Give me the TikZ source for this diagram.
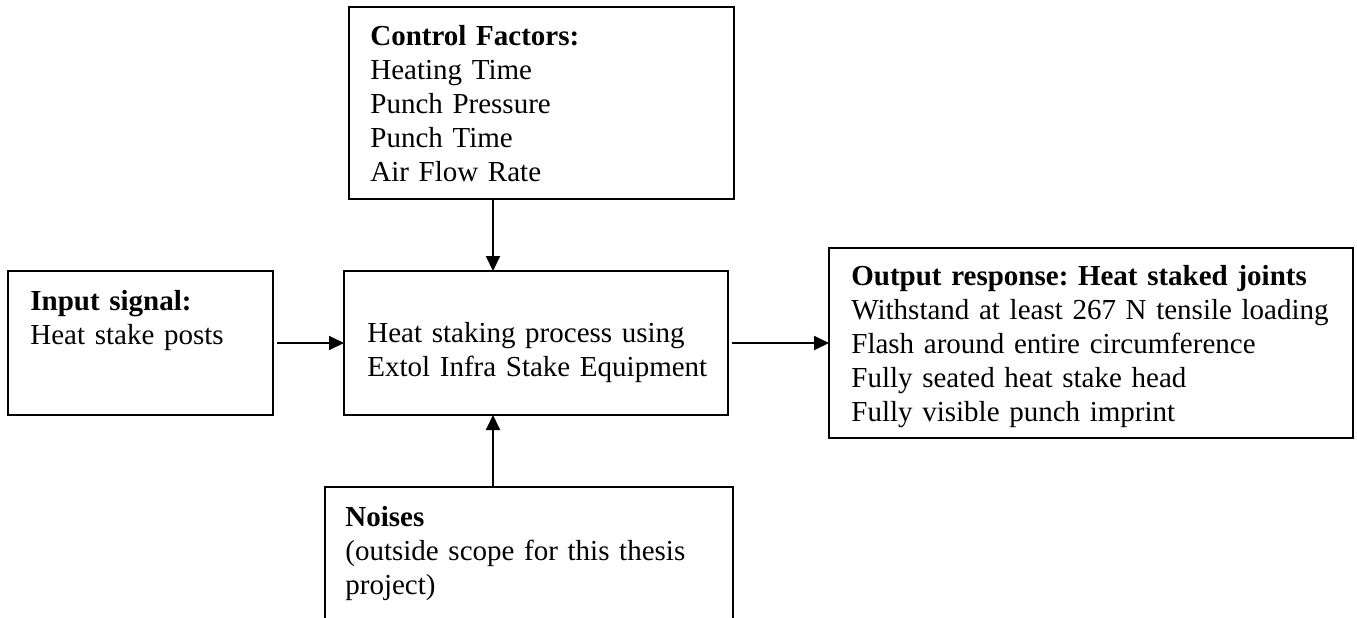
\documentclass[tikz,border=0pt]{standalone}
\usepackage{fontspec}
\setmainfont{Liberation Serif}
\usetikzlibrary{arrows.meta}
\frenchspacing

\begin{document}
\begin{tikzpicture}[
    x=0.5pt, y=-0.5pt,
    box/.style={draw, line width=1pt, inner sep=0pt, outer sep=0pt, anchor=north west},
    txt/.style={anchor=base west, inner sep=0pt, align=left, text width=300pt,
                font=\fontsize{14.5pt}{17pt}\selectfont},
    arr/.style={line width=1pt, -{Triangle[length=7.5pt, width=7pt]}}
  ]
  \useasboundingbox (0,0) rectangle (1357,617);
  \fill[white] (0,0) rectangle (1357,617);
  \clip (0,0) rectangle (1357,617);

  % frames
  \node[box, minimum width=192.5pt, minimum height=96pt] (ctrl)  at (349,7)   {};
  \node[box, minimum width=132.5pt, minimum height=72pt] (inp)   at (8,271)   {};
  \node[box, minimum width=192pt,   minimum height=72pt] (proc)  at (344,271) {};
  \node[box, minimum width=262pt,   minimum height=95pt] (out)   at (829,248) {};
  \node[box, minimum width=204pt,   minimum height=90pt] (noise) at (325,487) {};

  % texts
  \node[txt] (ctrltxt) at (370,45)
    {\textbf{Control Factors:}\\Heating Time\\Punch Pressure\\Punch Time\\Air Flow Rate};
  \node[txt] (inptxt) at (30,310)
    {\textbf{Input signal:}\\Heat stake posts};
  \node[txt] (proctxt) at (367,342)
    {Heat staking process using\\Extol Infra Stake Equipment};
  \node[txt] (outtxt) at (851,285)
    {\textbf{Output response: Heat staked joints}\\Withstand at least 267 N tensile loading\\Flash around entire circumference\\Fully seated heat stake head\\Fully visible punch imprint};
  \node[txt] (noisetxt) at (345,526)
    {\textbf{Noises}\\(outside scope for this thesis\\project)};

  % connectors
  \coordinate (axis) at (493,0);
  \draw[arr] (ctrl.south -| axis) -- (proc.north -| axis);
  \draw[arr] (noise.north -| axis) -- (proc.south -| axis);
  \draw[arr] ([xshift=2pt]inp.east) -- (proc.west);
  \draw[arr] ([xshift=2pt]proc.east) -- (out.west);
\end{tikzpicture}
\end{document}
